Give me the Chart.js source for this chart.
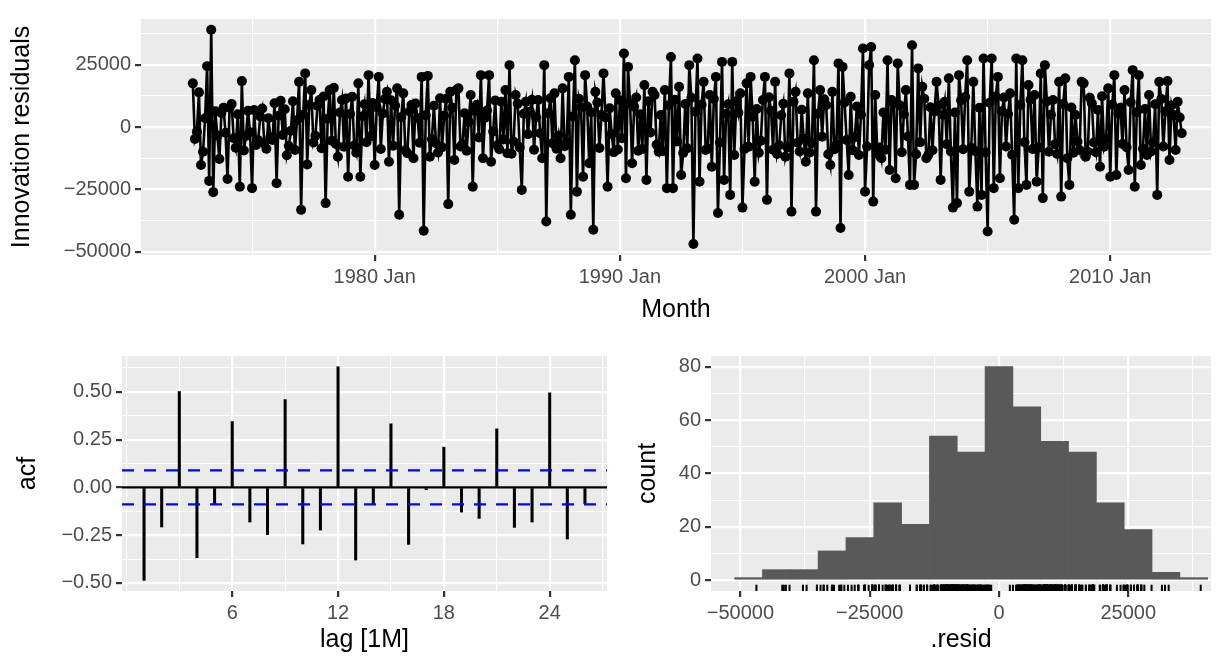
<!DOCTYPE html>
<html>
<head>
<meta charset="utf-8">
<script src="https://cdn.jsdelivr.net/npm/chart.js@4.4.1/dist/chart.umd.min.js"></script>
<style>
  html, body { margin: 0; padding: 0; background: #fff; }
  #wrap { position: relative; width: 1225px; height: 661px; }
  canvas { position: absolute; }
</style>
</head>
<body>
<div id="wrap">
  <canvas id="top" width="1225" height="330" style="left:0;top:0"></canvas>
  <canvas id="acf" width="615" height="331" style="left:0;top:330px"></canvas>
  <canvas id="hist" width="610" height="331" style="left:615px;top:330px"></canvas>
</div>
<script>
// monthly innovation residuals, first value is 1972 Aug
const startYear = 1972, startMonth = 8;
const resid = [
  17500, -4800, -1900, 13900, -15200, -9900, 3500, 24400, -21600, 39000, -26100, 6300,
  -3400, -12800, 5600, 7700, -2300, -20800, 7800, 9200, -4500, -8300, 5100, -23900,
  18400, -9400, -3600, 6500, -2100, -24500, 6800, -7200, -5300, 4200, 7400, -6500,
  -8700, 3500, -4100, -5200, 9500, -22500, 4500, 10500, -3200, 7100, -11300, -7600,
  -1500, 10300, -9200, 2700, 18100, -33200, 4900, 21500, -15000, 8800, 14800, -6200,
  -3500, 8500, 10800, -8500, 12200, -30500, 3300, 14800, -5500, 15700, -6800, -11900,
  5800, 10800, -7900, 11400, -19900, 5200, 12100, -7400, -10300, 17500, -19900, 4300,
  9100, -6100, 20800, -3700, 9600, -15200, 7900, 20100, -8800, 5400, 11200, 14100,
  -13900, 10700, -7500, 8600, 15500, -35200, 3900, 13500, -9300, -10500, 6200, 8800,
  -12500, 9400, 3600, -6300, 20100, -41600, 4700, 20500, -11900, -4900, 8500, -6500,
  -10200, 11500, -8100, 4500, 11300, -30900, 14100, 7700, -13200, 14800, 15500, -7800,
  -6900, 5500, -9500, 2100, 12800, -23900, 6400, 8900, -4200, 20800, -12500, 3700,
  6600, 20800, -13900, -1800, 10600, -7300, -8900, 10100, -5000, 14800, -10500, 24800,
  -10700, -5800, 12800, 9300, -8200, -25200, 5300, 10100, -2900, 6100, 10900, -9100,
  3900, 10800, -2500, -12500, 24800, -37900, 5500, 11500, -6500, 13500, -8700, -3500,
  -12500, 15500, -7700, -6100, 20100, -35200, 4200, 26800, -25900, 11300, 7800, -19900,
  20800, 8200, -14500, 5900, -41200, 14100, 9800, -8400, 4800, 21500, 3800, -23900,
  7500, -2800, -10100, 13500, -9000, 10700, -4500, 29500, -20500, 24100, 9300, -14500,
  8100, 11800, -9500, 5100, -8800, 16800, -21200, 10300, -2200, 14100, 12800, -7100,
  -9900, 4800, -9700, 14800, -24500, 8700, 28100, -24500, 10900, -5800, 16100, -19200,
  -10400, 9200, -8500, 24800, 11700, -46900, 6100, 27500, -21900, 8900, 18100, -9200,
  -8700, 12800, -15900, 11200, 20100, -34500, -6200, 26100, -21200, 5200, 9100, -27200,
  26100, -11200, 10200, 5700, 13500, -32300, -8800, 17500, -7900, 20100, 4100, -21900,
  7200, -10300, -5500, 10800, 20100, -29200, 11900, 6500, -9100, 18100, -10800, -7300,
  4700, 9300, -11900, -8100, 21500, -33900, 10100, 14100, -6300, -9800, 6900, -4700,
  -13900, 13500, -10200, -6500, 26800, -33900, 5300, 14800, -3900, 11100, 8800, -10900,
  -15200, 14100, -8900, -7100, 25500, -40500, 24100, 9800, -5200, -19200, 12100, -9300,
  -4100, 8200, -11200, 4900, 31500, -25900, -7800, 24800, 32100, -29900, 12800, -10700,
  -8200, -12500, 5800, -9100, 26800, -17200, 10800, 9400, -20500, 25500, 8700, -10100,
  5100, 14800, -3800, -23200, 32800, -23200, -10900, 23500, -6100, 16100, 11300, -12500,
  -11100, 7900, -9300, 6200, 18100, 8600, -21200, 4900, 10100, -6900, 19500, -9800,
  -32300, 5800, -30500, 20800, 10700, -8900, 12000, 26800, -25900, -8300, 18100, -9700,
  -31900, 7700, -27200, 27500, -10200, -41900, 9700, 27500, -24500, 12200, 20100, -20500,
  6300, 11800, -7800, 5200, 13500, -11100, -37200, 27500, -24500, 8800, 26800, -6100,
  -23200, 16800, 10900, -8800, 12800, -21900, -8200, 21500, -28500, 24800, 10200, -9900,
  4900, 10800, -6900, -10800, 18100, -27900, 9200, 19500, -12500, -23200, 7800, -10300,
  4800, -5900, -9200, 18100, 17500, -11900, -9900, 11700, 9500, -6200, -10100, 6800,
  -15900, 12300, -7900, -4800, 15500, -19900, 8900, 20800, -19200, 5300, 7700, -6800,
  14800, -8100, -17200, 9900, 22800, -23900, 5900, 20800, -15200, -8700, 7200, -11200,
  12800, -9800, -6200, 9100, -27200, 18100, 11200, -7800, 6200, 18400, -13200, 8600,
  4800, -9200, 10100, 3800, -2500
];

// ACF of the residuals
const lags = [1,2,3,4,5,6,7,8,9,10,11,12,13,14,15,16,17,18,19,20,21,22,23,24,25,26];
const acfVals = [-0.486, -0.207, 0.502, -0.368, -0.085, 0.345, -0.181, -0.247, 0.460, -0.296,
  -0.223, 0.632, -0.380, -0.087, 0.333, -0.298, -0.012, 0.211, -0.129, -0.162,
  0.307, -0.209, -0.181, 0.495, -0.270, -0.085];
const ciLevel = 0.089;

// histogram bins
const binCenters = [-48420, -43040, -37660, -32280, -26900, -21520, -16140, -10760, -5380,
  0, 5380, 10760, 16140, 21520, 26900, 32280, 37660];
const binCounts = [1, 4, 4, 11, 16, 29, 21, 54, 48, 80, 65, 52, 48, 29, 19, 3, 1];

const FONT = '"Liberation Sans", Arial, sans-serif';
const TICK_COL = '#4D4D4D', AXIS_COL = '#333333', PANEL = '#EBEBEB';
const minus = s => String(s).replace('-', '\u2212');

const panelBg = {
  id: 'panelBg',
  beforeDraw(c) {
    const a = c.chartArea, g = c.ctx;
    g.save();
    g.fillStyle = PANEL;
    g.fillRect(a.left, a.top, a.right - a.left, a.bottom - a.top);
    g.restore();
  }
};

function gridAxis({ min, max, major, minor, fmt, title, size, titlePad }) {
  const isMajor = v => major.includes(v);
  return {
    type: 'linear', min, max, offset: false,
    afterBuildTicks: s => {
      s.ticks = [...major, ...minor].filter(v => v >= min && v <= max)
        .sort((a, b) => a - b).map(v => ({ value: v }));
    },
    afterFit: s => { if (s.isHorizontal()) s.height = size; else s.width = size; },
    grid: {
      offset: false,
      color: '#FFFFFF',
      lineWidth: c => (c.tick && isMajor(c.tick.value)) ? 2.2 : 1.1,
      tickColor: c => (c.tick && isMajor(c.tick.value)) ? AXIS_COL : 'rgba(0,0,0,0)',
      tickWidth: 2.2,
      tickLength: 6
    },
    border: { display: false },
    ticks: {
      autoSkip: false, maxRotation: 0, minRotation: 0, padding: 4,
      color: TICK_COL, font: { family: FONT, size: 20 },
      callback: v => isMajor(v) ? fmt(v) : ''
    },
    title: { display: true, text: title, color: '#000', font: { family: FONT, size: 25 }, padding: titlePad }
  };
}

const base = pad => ({
  responsive: false, animation: false,
  layout: { padding: pad },
  plugins: { legend: { display: false }, tooltip: { enabled: false } }
});

// top: residuals over time
new Chart(document.getElementById('top'), {
  type: 'line',
  data: {
    datasets: [{
      data: resid.map((v, i) => ({ x: startYear + (startMonth - 1 + i) / 12, y: v })),
      borderColor: '#000', borderWidth: 2.6, tension: 0,
      pointRadius: 5, pointBackgroundColor: '#000', pointBorderWidth: 0
    }]
  },
  options: {
    ...base({ top: 19, right: 14, left: 0, bottom: 0 }),
    scales: {
      x: gridAxis({ min: 1970.47, max: 2014.11, major: [1980, 1990, 2000, 2010], minor: [1975, 1985, 1995, 2005],
        fmt: v => v + ' Jan', title: 'Month', size: 75, titlePad: { top: 0, bottom: 5 } }),
      y: gridAxis({ min: -51300, max: 43300, major: [-50000, -25000, 0, 25000], minor: [-37500, -12500, 12500, 37500],
        fmt: v => minus(v), title: 'Innovation residuals', size: 141, titlePad: { top: 7, bottom: 0 } })
    }
  },
  plugins: [panelBg]
});

// bottom left: ACF
const lagMin = -0.25, lagMax = 27.25;
const flat = (y, color, dash) => ({
  type: 'line', data: [{ x: lagMin, y }, { x: lagMax, y }],
  borderColor: color, borderWidth: 2.2, borderDash: dash, pointRadius: 0
});
new Chart(document.getElementById('acf'), {
  type: 'bar',
  data: {
    datasets: [
      flat(ciLevel, '#0000FF', [12, 10]),
      flat(-ciLevel, '#0000FF', [12, 10]),
      flat(0, '#000000', []),
      { type: 'bar', data: lags.map((l, i) => ({ x: l, y: acfVals[i] })), backgroundColor: '#000', barThickness: 2.4 }
    ]
  },
  options: {
    ...base({ top: 26, right: 8, left: 0, bottom: 0 }),
    scales: {
      x: gridAxis({ min: lagMin, max: lagMax, major: [6, 12, 18, 24], minor: [0, 3, 9, 15, 21, 27],
        fmt: v => String(v), title: 'lag [1M]', size: 70, titlePad: { top: 0, bottom: 6 } }),
      y: gridAxis({ min: -0.542, max: 0.688, major: [-0.5, -0.25, 0, 0.25, 0.5], minor: [-0.375, -0.125, 0.125, 0.375, 0.625],
        fmt: v => minus(v.toFixed(2)), title: 'acf', size: 122, titlePad: { top: 13, bottom: 0 } })
    }
  },
  plugins: [panelBg]
});

// bottom right: histogram with rug
new Chart(document.getElementById('hist'), {
  type: 'bar',
  data: {
    datasets: [
      { type: 'scatter', data: resid.map(v => ({ x: v, y: -3 })), pointStyle: 'line', rotation: 90,
        radius: 3.6, borderWidth: 2, borderColor: '#000' },
      { type: 'bar', data: binCenters.map((c, i) => ({ x: c, y: binCounts[i] })),
        backgroundColor: '#595959', borderWidth: 0, barPercentage: 1, categoryPercentage: 1 }
    ]
  },
  options: {
    ...base({ top: 26, right: 14, left: 0, bottom: 0 }),
    scales: {
      x: gridAxis({ min: -55680, max: 40990, major: [-50000, -25000, 0, 25000], minor: [-37500, -12500, 12500, 37500],
        fmt: v => minus(v), title: '.resid', size: 70, titlePad: { top: 0, bottom: 6 } }),
      y: gridAxis({ min: -4, max: 84, major: [0, 20, 40, 60, 80], minor: [10, 30, 50, 70],
        fmt: v => String(v), title: 'count', size: 96, titlePad: { top: 18, bottom: 0 } })
    }
  },
  plugins: [panelBg]
});
</script>
</body>
</html>
